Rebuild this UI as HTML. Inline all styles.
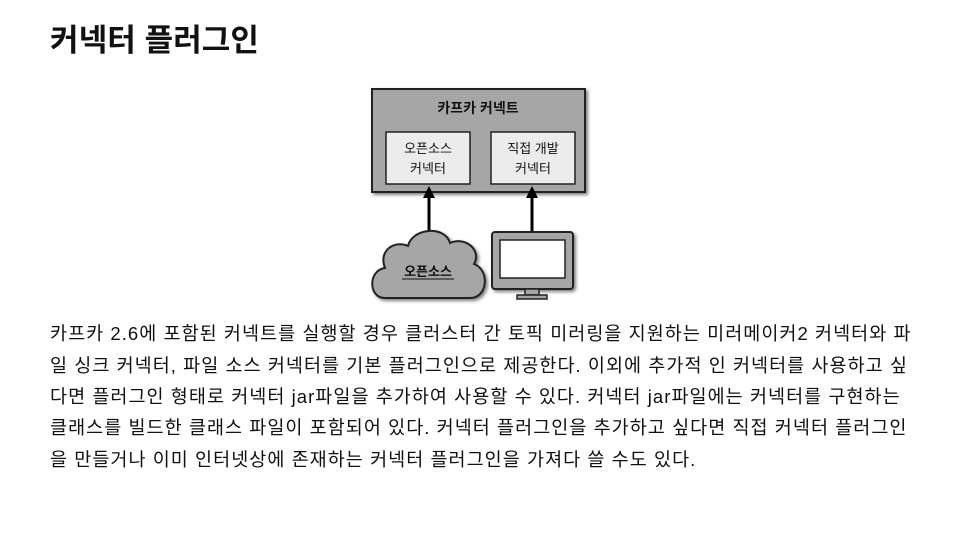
<!DOCTYPE html>
<html><head><meta charset="utf-8"><style>
body{margin:0;width:960px;height:540px;background:#fff;overflow:hidden;font-family:"Liberation Sans","Noto Sans CJK KR",sans-serif;position:relative}
h1{position:absolute;left:50px;top:15px;margin:0;font-size:31px;font-weight:bold;color:#111;letter-spacing:0.1px}
.l{position:absolute;left:50px;margin:0;font-size:18.5px;color:#111;white-space:nowrap;letter-spacing:1.05px}
</style></head><body>
<h1>커넥터 플러그인</h1>
<svg width="960" height="540" style="position:absolute;left:0;top:0">
<defs><filter id="s"><feDropShadow dx="2" dy="2" stdDeviation="1.5" flood-opacity="0.5"/></filter></defs>
<rect x="372" y="89" width="213" height="103" fill="#a6a6a6" stroke="#222" stroke-width="2" filter="url(#s)"/>
<text x="478" y="113" text-anchor="middle" font-size="14" font-weight="bold" fill="#111">카프카 커넥트</text>
<rect x="386" y="132" width="84" height="52" fill="#ececec" stroke="#222" stroke-width="1.5"/>
<text x="428" y="153" text-anchor="middle" font-size="13" fill="#111">오픈소스</text>
<text x="428" y="173" text-anchor="middle" font-size="13" fill="#111">커넥터</text>
<rect x="491" y="132" width="84" height="52" fill="#ececec" stroke="#222" stroke-width="1.5"/>
<text x="533" y="153" text-anchor="middle" font-size="13" fill="#111">직접 개발</text>
<text x="533" y="173" text-anchor="middle" font-size="13" fill="#111">커넥터</text>
<line x1="429" y1="234" x2="429" y2="196" stroke="#000" stroke-width="3"/>
<polygon points="429,186 423,198 435,198" fill="#000"/>
<line x1="532" y1="236" x2="532" y2="196" stroke="#000" stroke-width="3"/>
<polygon points="532,186 526,198 538,198" fill="#000"/>
<path d="M385,298 C368,298 368,270 385,268 C378,250 395,240 408,246 C412,228 445,225 450,243 C465,236 482,250 474,264 C490,270 488,298 470,298 Z" fill="#a6a6a6" stroke="#222" stroke-width="2" filter="url(#s)"/>
<text x="428" y="276" text-anchor="middle" font-size="13" font-weight="bold" fill="#111">오픈소스</text>
<line x1="402" y1="279" x2="454" y2="279" stroke="#111" stroke-width="1"/>
<rect x="492" y="232" width="81" height="57" rx="3" fill="#a6a6a6" stroke="#222" stroke-width="2" filter="url(#s)"/>
<rect x="500" y="240" width="65" height="38" fill="#fff" stroke="#222" stroke-width="1.5"/>
<rect x="525" y="289" width="14" height="6" fill="#a6a6a6" stroke="#222" stroke-width="1.5"/>
<rect x="517" y="295" width="30" height="4" fill="#a6a6a6" stroke="#222" stroke-width="1.5"/>
</svg>
<div class="l" style="top:320px">카프카 2.6에 포함된 커넥트를 실행할 경우 클러스터 간 토픽 미러링을 지원하는 미러메이커2 커넥터와 파</div>
<div class="l" style="top:352px">일 싱크 커넥터, 파일 소스 커넥터를 기본 플러그인으로 제공한다. 이외에 추가적 인 커넥터를 사용하고 싶</div>
<div class="l" style="top:383px">다면 플러그인 형태로 커넥터 jar파일을 추가하여 사용할 수 있다. 커넥터 jar파일에는 커넥터를 구현하는</div>
<div class="l" style="top:414px">클래스를 빌드한 클래스 파일이 포함되어 있다. 커넥터 플러그인을 추가하고 싶다면 직접 커넥터 플러그인</div>
<div class="l" style="top:446px">을 만들거나 이미 인터넷상에 존재하는 커넥터 플러그인을 가져다 쓸 수도 있다.</div>
</body></html>
